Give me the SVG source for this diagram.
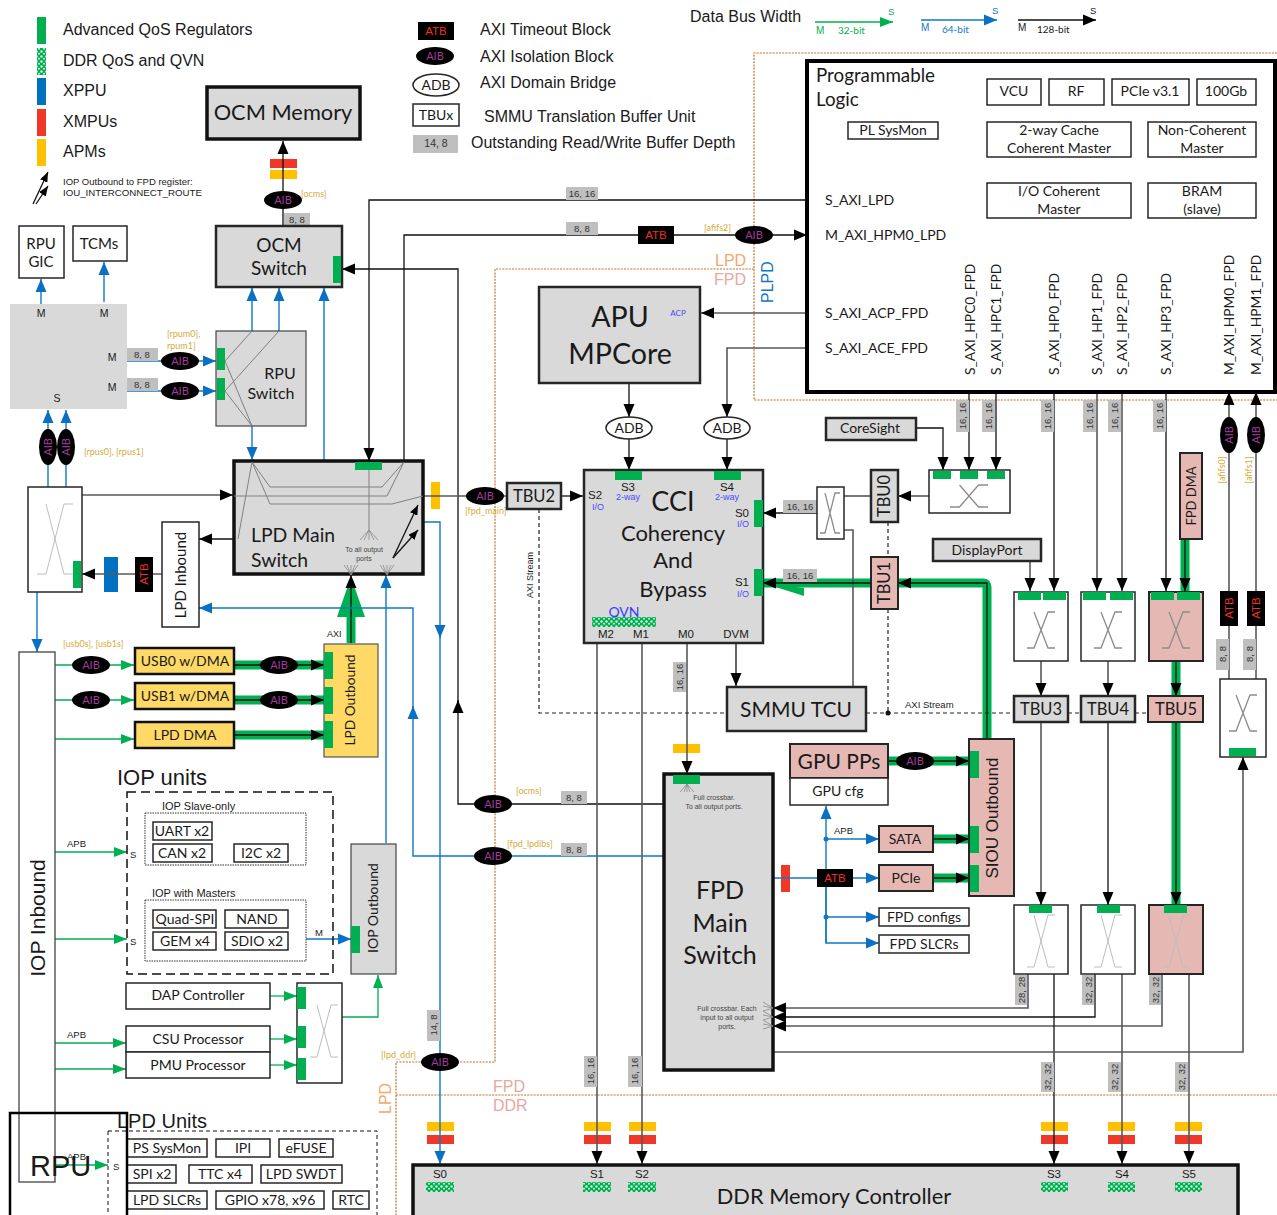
<svg xmlns="http://www.w3.org/2000/svg" width="1277" height="1215" viewBox="0 0 1277 1215">
<style>
text{font-family:"Liberation Sans",Arial,sans-serif;fill:#1a1a1a}
.c{font-family:Lato,"Liberation Sans",sans-serif}
.m{text-anchor:middle}
.b{fill:#fff;stroke:#262626;stroke-width:1.5}
.g{fill:#d9d9d9;stroke:#262626;stroke-width:2.5}
.g3{fill:#d9d9d9;stroke:#111;stroke-width:3.5}
.p{fill:#e6b8b3;stroke:#262626;stroke-width:2}
.y{fill:#ffd966;stroke:#111;stroke-width:2.5}
.aq{fill:#00b050}.xm{fill:#f03828}.ap{fill:#ffc000}.xp{fill:#0070c0}
.lb{fill:#bfbfbf}
.lt{font-size:9.5px;text-anchor:middle;fill:#333}
.aib{fill:#000}
.aibt{font-family:Lato,sans-serif;font-size:11px;fill:#a03c9c;text-anchor:middle}
.atb{fill:#000}
.atbt{font-size:11.5px;fill:#f03020;text-anchor:middle}
.gold{font-family:Lato,sans-serif;font-size:9px;fill:#d4ac3a}
.io{font-size:9px;fill:#4a4aff;text-anchor:middle}
.k,.s,.bl,.gn,.th,.dot,.dash,.in,.fan{fill:none}
.k{stroke:#111;stroke-width:1.3}
.s{stroke:#595959;stroke-width:1.6}
.bl{stroke:#0f78c8;stroke-width:1.4}
.gn{stroke:#00b050;stroke-width:1.3}
.th{stroke:#00b050;stroke-width:9}
.dot{stroke:#c0702a;stroke-width:1.2;stroke-dasharray:2 1.2}
.dash{stroke:#222;stroke-width:1.2;stroke-dasharray:4 3}
.in{stroke:#808080;stroke-width:1}
.fan{stroke:#8c8c8c;stroke-width:.8}
.xg{stroke:#8c8c8c;stroke-width:1.3}
.xl{stroke:#bdbdbd;stroke-width:1}
.hash{fill:url(#qv)}
</style>
<defs>
<pattern id="qv" width="5" height="5" patternUnits="userSpaceOnUse"><rect width="5" height="5" fill="#00b050"/><circle cx="1.5" cy="1.5" r="1.2" fill="#d8f2e2"/><circle cx="4" cy="3.8" r="1" fill="#d8f2e2"/></pattern>
<marker id="ak" markerUnits="userSpaceOnUse" markerWidth="13" markerHeight="12" refX="13" refY="6" orient="auto"><path d="M0 .5L13 6L0 11.5z" fill="#000"/></marker>
<marker id="as" markerUnits="userSpaceOnUse" markerWidth="10" markerHeight="8" refX="10" refY="4" orient="auto"><path d="M0 0L10 4L0 8z" fill="#000"/></marker>
<marker id="ab" markerUnits="userSpaceOnUse" markerWidth="13" markerHeight="12" refX="13" refY="6" orient="auto"><path d="M0 .5L13 6L0 11.5z" fill="#0a70c4"/></marker>
<marker id="ag" markerUnits="userSpaceOnUse" markerWidth="13" markerHeight="12" refX="13" refY="6" orient="auto"><path d="M0 1L13 6L0 11z" fill="#00b050"/></marker>
<path id="xc" d="M-1 1H-.5L.5-1H1M-.5-1L.5 1H1" fill="none" vector-effect="non-scaling-stroke"/>
</defs>

<g id="legend">
<rect class="aq" x="37" y="17" width="9" height="27"/><rect class="hash" x="37" y="48" width="9" height="27"/><rect class="xp" x="37" y="78" width="9" height="27"/><rect class="xm" x="37" y="109" width="9" height="27"/><rect class="ap" x="37" y="139" width="9" height="27"/>
<g font-size="16"><text x="63" y="35">Advanced QoS Regulators</text><text x="63" y="66">DDR QoS and QVN</text><text x="63" y="96">XPPU</text><text x="63" y="127">XMPUs</text><text x="63" y="157">APMs</text>
<text x="480" y="35">AXI Timeout Block</text><text x="480" y="62">AXI Isolation Block</text><text x="480" y="88">AXI Domain Bridge</text><text x="484" y="122">SMMU Translation Buffer Unit</text><text x="471" y="148">Outstanding Read/Write Buffer Depth</text><text x="690" y="22">Data Bus Width</text></g>
<path class="k" d="M36 204L48 186" marker-end="url(#as)"/>
<path class="k" d="M33 204L48 172" marker-end="url(#as)"/>
<text x="63" y="185" font-size="9.5">IOP Outbound to FPD register:</text><text x="63" y="196" font-size="9.7">IOU_INTERCONNECT_ROUTE</text>
<rect class="atb" x="418" y="22" width="36" height="18"/><text class="atbt" x="436" y="35">ATB</text>
<ellipse class="aib" cx="435" cy="56" rx="19" ry="9"/><text class="aibt" x="435" y="60">AIB</text>
<ellipse class="b" cx="436" cy="85" rx="23" ry="11"/><text class="c m" x="436" y="90" font-size="14">ADB</text>
<rect class="b" x="413" y="104" width="46" height="22"/><text class="c m" x="436" y="120" font-size="14">TBUx</text>
<rect class="lb" x="413" y="135" width="45" height="18"/><text class="lt" x="436" y="147" style="font-size:10.5px">14, 8</text>
<path class="gn" d="M815 22H893" stroke-width="2" marker-end="url(#ag)"/><text x="888" y="15" font-size="9.5" style="fill:#00b050">S</text><text x="816" y="34" font-size="10" style="fill:#00b050">M</text><text x="838" y="34" font-size="10" class="c" style="fill:#00b050">32-bit</text>
<path class="bl" d="M921 20H997" marker-end="url(#ab)"/><text x="992" y="14" font-size="9.5" style="fill:#0f78c8">S</text><text x="921" y="31" font-size="10" style="fill:#0f78c8">M</text><text x="942" y="33" font-size="10" class="c" style="fill:#0f78c8">64-bit</text>
<path class="k" d="M1018 20H1096" marker-end="url(#ak)"/><text x="1090" y="14" font-size="9.5">S</text><text x="1018" y="31" font-size="10">M</text><text x="1037" y="33" font-size="10" class="c">128-bit</text>
</g>

<g id="domains">
<path class="dot" d="M1277 53H754V400H1277"/><path class="dot" d="M754 269H495V1062H396V1215"/><path class="dot" d="M396 1095H1277"/>
<text x="715" y="266" font-size="16" style="fill:#f4a868">LPD</text><text x="714" y="285" font-size="16" style="fill:#e6a8a0">FPD</text>
<text x="773" y="303" font-size="16" transform="rotate(-90 773 303)" style="fill:#0f78c8">PLPD</text>
<text x="391" y="1114" font-size="16" transform="rotate(-90 391 1114)" style="fill:#f4a868">LPD</text>
<text x="493" y="1092" font-size="16" style="fill:#e6a8a0">FPD</text><text x="493" y="1111" font-size="16" style="fill:#e6a8a0">DDR</text>
</g>

<g id="bars">
<rect class="xm" x="270" y="159" width="27" height="9"/><rect class="ap" x="270" y="170" width="27" height="9"/>
<rect class="ap" x="431" y="482" width="9" height="27"/><rect class="ap" x="673" y="744" width="27" height="9"/>
<rect class="xm" x="781" y="865" width="9" height="27"/><rect class="xp" x="104" y="557" width="14" height="35"/>
<rect class="ap" x="427" y="1122" width="27" height="9"/><rect class="xm" x="427" y="1135" width="27" height="9"/>
<rect class="ap" x="584" y="1122" width="27" height="9"/><rect class="xm" x="584" y="1135" width="27" height="9"/>
<rect class="ap" x="629" y="1122" width="27" height="9"/><rect class="xm" x="629" y="1135" width="27" height="9"/>
<rect class="ap" x="1041" y="1122" width="27" height="9"/><rect class="xm" x="1041" y="1135" width="27" height="9"/>
<rect class="ap" x="1108" y="1122" width="27" height="9"/><rect class="xm" x="1108" y="1135" width="27" height="9"/>
<rect class="ap" x="1175" y="1122" width="27" height="9"/><rect class="xm" x="1175" y="1135" width="27" height="9"/>
</g>

<g id="connectors">
<!-- thick green buses -->
<path class="th" d="M351 643V600"/><polygon class="aq" points="351,577 365,617 337,617"/>
<path class="th" d="M234 665H324M234 700H324M234 735H324"/>
<path class="th" d="M987 740V587Q987 583 983 583H763"/><polygon class="aq" points="763,583 804,596 804,588"/>
<path class="th" d="M888 761H969M933 839H969M933 878H969"/>
<path class="th" d="M1185 539V591M1176 661V696M1176 722V905"/>
<!-- black and grey -->
<path class="k" d="M283 226V141" marker-end="url(#ak)"/>
<path class="k" d="M807 200H369V461" marker-end="url(#ak)"/>
<path class="k" d="M404 461V235H807" marker-end="url(#ak)"/>
<path class="k" d="M664 804H458V269H342" marker-end="url(#ak)"/>
<path class="k" d="M458 712V700" marker-end="url(#ak)"/>
<path class="s" d="M82 495H233" marker-end="url(#ak)"/>
<path class="s" d="M162 574H82" marker-end="url(#ak)"/>
<path class="k" d="M233 539H199" marker-end="url(#ak)"/>
<path class="s" d="M423 496H507"/>
<path class="k" d="M561 496H583" marker-end="url(#ak)"/>
<path class="s" d="M807 313H701" marker-end="url(#ak)"/>
<path class="s" d="M807 348H727V417" marker-end="url(#ak)"/>
<path class="k" d="M629 383V417" marker-end="url(#ak)"/>
<path class="k" d="M629 439V470" marker-end="url(#ak)"/>
<path class="k" d="M727 439V470" marker-end="url(#ak)"/>
<path class="s" d="M597 643V1164" marker-end="url(#ak)"/>
<path class="s" d="M642 643V1164" marker-end="url(#ak)"/>
<path class="s" d="M687 643V774" marker-end="url(#ak)"/>
<path class="k" d="M736 643V686" marker-end="url(#ak)"/>
<path class="k" d="M817 513H763" marker-end="url(#ak)"/>
<path class="s" d="M844 496H871"/>
<path class="s" d="M844 530H853V687"/>
<path class="s" d="M929 496H898" marker-end="url(#ak)"/>
<path class="k" d="M916 428H943V470" marker-end="url(#ak)"/>
<path class="k" d="M969 392V470" marker-end="url(#ak)"/>
<path class="k" d="M996 392V470" marker-end="url(#ak)"/>
<path class="k" d="M987 740V583H898" marker-end="url(#ak)"/>
<path class="k" d="M871 583H763" marker-end="url(#ak)"/>
<path class="s" d="M1030 561V591" marker-end="url(#ak)"/>
<path class="k" d="M1054 392V591" marker-end="url(#ak)"/>
<path class="s" d="M1097 392V591" marker-end="url(#ak)"/>
<path class="s" d="M1122 392V591" marker-end="url(#ak)"/>
<path class="k" d="M1166 392V591" marker-end="url(#ak)"/>
<path class="k" d="M1185 539V591" stroke-width="2" marker-end="url(#ak)"/>
<path class="s" d="M1041 661V696" marker-end="url(#ak)"/>
<path class="s" d="M1108 661V696" marker-end="url(#ak)"/>
<path class="k" d="M1176 661V696" stroke-width="2" marker-end="url(#ak)"/>
<path class="s" d="M1041 722V905" marker-end="url(#ak)"/>
<path class="k" d="M1108 722V905" marker-end="url(#ak)"/>
<path class="k" d="M1176 722V905" stroke-width="2" marker-end="url(#ak)"/>
<path class="s" d="M1229 679V392" marker-end="url(#ak)"/>
<path class="s" d="M1256 679V392" marker-end="url(#ak)"/>
<path class="k" d="M351 643V575" stroke-width="2" marker-end="url(#ak)"/>
<path class="k" d="M234 665H324" stroke-width="2" marker-end="url(#ak)"/><path class="k" d="M234 700H324" stroke-width="2" marker-end="url(#ak)"/><path class="k" d="M234 735H324" stroke-width="2" marker-end="url(#ak)"/>
<path class="k" d="M888 761H969" stroke-width="2" marker-end="url(#ak)"/><path class="k" d="M933 839H969" stroke-width="2" marker-end="url(#ak)"/><path class="k" d="M933 878H969" stroke-width="2" marker-end="url(#ak)"/>
<path class="s" d="M1028 974V1008H773" marker-end="url(#ak)"/>
<path class="k" d="M1095 974V1017H773" marker-end="url(#ak)"/>
<path class="s" d="M1162 974V1026H773" marker-end="url(#ak)"/>
<path class="k" d="M1054 974V1164" marker-end="url(#ak)"/>
<path class="s" d="M1122 974V1164" stroke-width="1.2" marker-end="url(#ak)"/>
<path class="s" d="M1189 974V1164" marker-end="url(#ak)"/>
<path class="s" d="M773 1052H1243V757" marker-end="url(#ak)"/>
<!-- dashed AXI stream -->
<path class="dash" d="M539 509V713H727M866 713H1014M1068 713H1081M1135 713H1148M888 522V557M888 609V713"/>
<circle cx="888" cy="713" r="2.5" fill="#111"/>
<!-- blue -->
<path class="bl" d="M41 304V279" marker-end="url(#ab)"/><path class="bl" d="M104 302V262" marker-end="url(#ab)"/>
<path class="bl" d="M126 361H216" marker-end="url(#ab)"/><path class="bl" d="M126 391H216" marker-end="url(#ab)"/>
<path class="bl" d="M252 331V288" marker-end="url(#ab)"/><path class="bl" d="M279 331V288" marker-end="url(#ab)"/><path class="bl" d="M324 460V288" marker-end="url(#ab)"/>
<path class="bl" d="M252 426V460" marker-end="url(#ab)"/>
<path class="bl" d="M48 487V410" marker-end="url(#ab)"/><path class="bl" d="M66 487V410" marker-end="url(#ab)"/>
<path class="bl" d="M37 592V652" marker-end="url(#ab)"/>
<path class="bl" d="M423 522H440V1164" marker-end="url(#ab)"/><path class="bl" d="M440 626V638" marker-end="url(#ab)"/>
<path class="bl" d="M664 856H413V608H199" marker-end="url(#ab)"/><path class="bl" d="M413 718V706" marker-end="url(#ab)"/>
<path class="bl" d="M386 843V575" marker-end="url(#ab)"/>
<path class="bl" d="M306 939H351" marker-end="url(#ab)"/>
<path class="bl" d="M826 943V806" marker-end="url(#ab)"/>
<path class="bl" d="M826 839H879" marker-end="url(#ab)"/><path class="bl" d="M773 878H879" marker-end="url(#ab)"/><path class="bl" d="M826 917H879" marker-end="url(#ab)"/><path class="bl" d="M826 878V943H879" marker-end="url(#ab)"/>
<circle cx="826" cy="839" r="2.5" fill="#0f78c8"/><circle cx="826" cy="917" r="2.5" fill="#0f78c8"/>
<!-- green -->
<path class="gn" d="M55 665H134" marker-end="url(#ag)"/><path class="gn" d="M55 700H134" marker-end="url(#ag)"/><path class="gn" d="M55 739H134" marker-end="url(#ag)"/>
<path class="gn" d="M55 852H127" marker-end="url(#ag)"/><path class="gn" d="M55 939H127" marker-end="url(#ag)"/>
<path class="gn" d="M55 1043H126" marker-end="url(#ag)"/><path class="gn" d="M55 1069H126" marker-end="url(#ag)"/>
<path class="gn" d="M55 1165H108" marker-end="url(#ag)"/>
<path class="gn" d="M270 996H297" marker-end="url(#ag)"/><path class="gn" d="M270 1039H297" marker-end="url(#ag)"/><path class="gn" d="M270 1065H297" marker-end="url(#ag)"/>
<path class="gn" d="M342 1017H378V975" marker-end="url(#ag)"/>
</g>

<g id="depth-labels">
<rect class="lb" x="284" y="213" width="26" height="13"/><text class="lt" x="297" y="223">8, 8</text>
<rect class="lb" x="566" y="187" width="32" height="13"/><text class="lt" x="582" y="197">16, 16</text>
<rect class="lb" x="566" y="222" width="32" height="13"/><text class="lt" x="582" y="232">8, 8</text>
<rect class="lb" x="126" y="348" width="32" height="13"/><text class="lt" x="142" y="358">8, 8</text>
<rect class="lb" x="126" y="378" width="32" height="13"/><text class="lt" x="142" y="388">8, 8</text>
<rect class="lb" x="783" y="500" width="34" height="13"/><text class="lt" x="800" y="510">16, 16</text>
<rect class="lb" x="783" y="569" width="34" height="13"/><text class="lt" x="800" y="579">16, 16</text>
<rect class="lb" x="561" y="791" width="26" height="13"/><text class="lt" x="574" y="801">8, 8</text>
<rect class="lb" x="561" y="843" width="26" height="13"/><text class="lt" x="574" y="853">8, 8</text>
<rect class="lb" x="673" y="662" width="13" height="30"/><text class="lt" transform="translate(683 677) rotate(-90)">16, 16</text>
<rect class="lb" x="956" y="400" width="13" height="32"/><text class="lt" transform="translate(966 416) rotate(-90)">16, 16</text>
<rect class="lb" x="982" y="400" width="13" height="32"/><text class="lt" transform="translate(992 416) rotate(-90)">16, 16</text>
<rect class="lb" x="1041" y="400" width="13" height="32"/><text class="lt" transform="translate(1051 416) rotate(-90)">16, 16</text>
<rect class="lb" x="1083" y="400" width="13" height="32"/><text class="lt" transform="translate(1093 416) rotate(-90)">16, 16</text>
<rect class="lb" x="1108" y="400" width="13" height="32"/><text class="lt" transform="translate(1118 416) rotate(-90)">16, 16</text>
<rect class="lb" x="1153" y="400" width="13" height="32"/><text class="lt" transform="translate(1163 416) rotate(-90)">16, 16</text>
<rect class="lb" x="1216" y="639" width="13" height="31"/><text class="lt" transform="translate(1226 654) rotate(-90)">8, 8</text>
<rect class="lb" x="1243" y="639" width="13" height="31"/><text class="lt" transform="translate(1253 654) rotate(-90)">8, 8</text>
<rect class="lb" x="1015" y="975" width="12" height="30"/><text class="lt" transform="translate(1025 990) rotate(-90)">28, 28</text>
<rect class="lb" x="1082" y="975" width="12" height="30"/><text class="lt" transform="translate(1092 990) rotate(-90)">32, 32</text>
<rect class="lb" x="1149" y="975" width="12" height="30"/><text class="lt" transform="translate(1159 990) rotate(-90)">32, 32</text>
<rect class="lb" x="1041" y="1062" width="13" height="30"/><text class="lt" transform="translate(1051 1077) rotate(-90)">32, 32</text>
<rect class="lb" x="1108" y="1062" width="13" height="30"/><text class="lt" transform="translate(1118 1077) rotate(-90)">32, 32</text>
<rect class="lb" x="1175" y="1062" width="13" height="30"/><text class="lt" transform="translate(1185 1077) rotate(-90)">32, 32</text>
<rect class="lb" x="427" y="1010" width="13" height="31"/><text class="lt" transform="translate(437 1025) rotate(-90)">14, 8</text>
<rect class="lb" x="584" y="1056" width="13" height="31"/><text class="lt" transform="translate(594 1071) rotate(-90)">16, 16</text>
<rect class="lb" x="628" y="1056" width="14" height="31"/><text class="lt" transform="translate(638 1071) rotate(-90)">16, 16</text>
</g>

<g id="ocm-memory"><rect class="g3" x="207" y="87" width="153" height="52"/><text class="c m" x="283" y="120" font-size="21.8">OCM Memory</text></g>
<g id="ocm-switch"><rect class="g" x="216" y="226" width="126" height="61" stroke-width="3"/><rect class="aq" x="333" y="256" width="8" height="27"/><text class="c m" x="279" y="252" font-size="19">OCM</text><text class="c m" x="279" y="275" font-size="19">Switch</text></g>
<g id="rpu-gic"><rect class="b" x="19" y="226" width="45" height="52"/><text class="c m" x="41" y="249" font-size="15">RPU</text><text class="c m" x="41" y="267" font-size="15">GIC</text></g>
<g id="tcms"><rect class="b" x="73" y="226" width="54" height="35"/><text class="c m" x="99" y="249" font-size="15">TCMs</text></g>
<g id="rpu"><rect x="10" y="304" width="117" height="105" fill="#d9d9d9"/><g font-size="10.5"><text class="m" x="41" y="317">M</text><text class="m" x="104" y="317">M</text><text class="m" x="112" y="361">M</text><text class="m" x="112" y="391">M</text><text class="m" x="57" y="402">S</text></g></g>
<g id="rpu-switch"><rect x="216" y="331" width="90" height="95" fill="#d9d9d9" stroke="#444" stroke-width="1.2"/><path class="in" d="M225 361L252 331M225 391L279 331M225 361L252 426M225 391L252 426"/><rect class="aq" x="217" y="348" width="8" height="22"/><rect class="aq" x="217" y="378" width="8" height="22"/><text class="c m" x="280" y="379" font-size="16">RPU</text><text class="c m" x="271" y="399" font-size="16">Switch</text></g>
<g id="rpu-aibs"><ellipse class="aib" cx="180" cy="361" rx="19" ry="9"/><text class="aibt" x="180" y="365">AIB</text><ellipse class="aib" cx="180" cy="391" rx="19" ry="9"/><text class="aibt" x="180" y="395">AIB</text><text class="gold" x="167" y="337">[rpum0],</text><text class="gold" x="167" y="349">rpum1]</text>
<ellipse class="aib" cx="48" cy="447" rx="9" ry="18"/><text class="aibt" transform="translate(52 447) rotate(-90)">AIB</text><ellipse class="aib" cx="66" cy="447" rx="9" ry="18"/><text class="aibt" transform="translate(70 447) rotate(-90)">AIB</text><text class="gold" x="84" y="455">[rpus0], [rpus1]</text></g>
<g id="lpd-xbar"><rect class="b" x="28" y="487" width="54" height="105"/><use href="#xc" class="xl" transform="translate(55 539) scale(18 35)"/><rect class="aq" x="73" y="561" width="8" height="27"/></g>
<g id="atb-lpd"><rect class="atb" x="135" y="557" width="18" height="35"/><text class="atbt" transform="translate(148 574) rotate(-90)">ATB</text></g>
<g id="lpd-inbound"><rect class="b" x="162" y="522" width="37" height="105"/><text class="c m" transform="translate(186 575) rotate(-90)" font-size="15">LPD Inbound</text></g>
<g id="lpd-main"><rect class="g3" x="234" y="461" width="189" height="113"/><path class="in" d="M252 462L270 487H382L404 462M252 462L270 504H392L423 496M252 462L238 539M234 496H387L404 462M369 470V530"/><rect class="aq" x="355" y="462" width="27" height="8"/><path class="fan" d="M369 530L360 540M369 530L364 540M369 530V540M369 530L374 540M369 530L378 540M351 575L344 565M351 575L347 565M351 575V565M351 575L355 565M351 575L358 565M387 575L380 565M387 575L383 565M387 575V565M387 575L391 565M387 575L394 565"/><text class="c" x="251" y="542" font-size="19.4">LPD Main</text><text class="c" x="251" y="567" font-size="19.4">Switch</text><text class="m" x="364" y="552" font-size="7" style="fill:#444">To all output</text><text class="m" x="364" y="561" font-size="7" style="fill:#444">ports</text><path class="k" d="M393 558L418 505" marker-end="url(#as)"/><path class="k" d="M393 558L418 530" marker-end="url(#as)"/></g>
<g id="aib-afifs2"><rect class="atb" x="638" y="226" width="36" height="18"/><text class="atbt" x="656" y="239">ATB</text><ellipse class="aib" cx="754" cy="235" rx="19" ry="9"/><text class="aibt" x="754" y="239">AIB</text><text class="gold" x="704" y="231">[afifs2]</text></g>
<g id="aib-ocm"><ellipse class="aib" cx="283" cy="200" rx="19" ry="9"/><text class="aibt" x="283" y="204">AIB</text><text class="gold" x="301" y="197">[ocms]</text></g>
<g id="tbu2"><ellipse class="aib" cx="485" cy="496" rx="19" ry="9"/><text class="aibt" x="485" y="500">AIB</text><text class="gold" x="465" y="514">[fpd_main]</text><rect class="g" x="507" y="483" width="54" height="26"/><text class="c m" x="534" y="502" font-size="16.5">TBU2</text><text class="m" transform="translate(533 575) rotate(-90)" font-size="9">AXI Stream</text></g>
<g id="apu"><rect class="g" x="539" y="287" width="161" height="96"/><text class="c m" x="620" y="327" font-size="28.6">APU</text><text class="c m" x="620" y="364" font-size="28.6">MPCore</text><text class="c m" x="678" y="316" font-size="8" style="fill:#4a4aff">ACP</text></g>
<g id="adb"><ellipse class="b" cx="629" cy="428" rx="23" ry="11"/><text class="c m" x="629" y="433" font-size="14">ADB</text><ellipse class="b" cx="727" cy="428" rx="23" ry="11"/><text class="c m" x="727" y="433" font-size="14">ADB</text></g>
<g id="cci"><rect class="g" x="584" y="470" width="179" height="173"/><rect class="aq" x="615" y="471" width="27" height="9"/><rect class="aq" x="714" y="471" width="27" height="9"/><rect class="aq" x="754" y="500" width="9" height="27"/><rect class="aq" x="754" y="569" width="9" height="27"/>
<g font-size="11.5"><text x="588" y="499">S2</text><text class="m" x="628" y="491">S3</text><text class="m" x="727" y="491">S4</text><text class="m" x="742" y="517">S0</text><text class="m" x="742" y="586">S1</text><text class="m" x="606" y="638">M2</text><text class="m" x="641" y="638">M1</text><text class="m" x="686" y="638">M0</text><text class="m" x="736" y="638">DVM</text></g>
<text class="io" x="598" y="510">I/O</text><text class="io" x="628" y="500">2-way</text><text class="io" x="727" y="500">2-way</text><text class="io" x="743" y="527">I/O</text><text class="io" x="743" y="597">I/O</text>
<text class="c m" x="673" y="511" font-size="27">CCI</text><text class="c m" x="673" y="541" font-size="22">Coherency</text><text class="c m" x="673" y="568" font-size="22">And</text><text class="c m" x="673" y="597" font-size="22">Bypass</text>
<text class="c m" x="624" y="617" font-size="14" style="fill:#3a3aff">QVN</text><rect class="hash" x="592" y="617" width="64" height="10"/></g>
<g id="smmu-tcu"><rect class="g" x="727" y="687" width="139" height="44"/><text class="c m" x="796" y="717" font-size="21">SMMU TCU</text></g>
<g id="xbar-s0"><rect class="b" x="817" y="487" width="27" height="52"/><use href="#xc" class="xg" transform="translate(830 513) scale(10 20)"/></g>
<g id="tbu0"><rect class="g" x="871" y="470" width="27" height="52"/><text class="c m" transform="translate(890 496) rotate(-90)" font-size="16.5">TBU0</text></g>
<g id="tbu1"><rect class="p" x="871" y="557" width="27" height="52"/><text class="c m" transform="translate(890 583) rotate(-90)" font-size="16.5">TBU1</text></g>
<g id="coresight"><rect class="g" x="826" y="418" width="90" height="22" stroke-width="1.5"/><text class="c m" x="870" y="433" font-size="14">CoreSight</text></g>
<g id="xbar-cs"><rect class="b" x="929" y="470" width="81" height="43"/><rect class="aq" x="933" y="471" width="18" height="8"/><rect class="aq" x="960" y="471" width="18" height="8"/><rect class="aq" x="987" y="471" width="18" height="8"/><use href="#xc" class="xg" transform="translate(969 496) scale(19 11)"/></g>
<g id="displayport"><rect class="g" x="933" y="539" width="108" height="22" stroke-width="1.5"/><text class="c m" x="987" y="555" font-size="14">DisplayPort</text></g>
<g id="axi-stream"><text x="905" y="708" font-size="9.5">AXI Stream</text></g>
<g id="xbar3"><rect class="b" x="1014" y="592" width="54" height="69" stroke-width="2"/><rect class="aq" x="1018" y="592" width="23" height="8"/><rect class="aq" x="1043" y="592" width="23" height="8"/><use href="#xc" class="xg" transform="translate(1041 630) scale(14 18)"/></g>
<g id="xbar4"><rect class="b" x="1081" y="592" width="54" height="69" stroke-width="2"/><rect class="aq" x="1083" y="592" width="23" height="8"/><rect class="aq" x="1110" y="592" width="23" height="8"/><use href="#xc" class="xg" transform="translate(1108 630) scale(14 18)"/></g>
<g id="xbar5"><rect class="p" x="1149" y="592" width="54" height="69"/><rect class="aq" x="1151" y="592" width="23" height="8"/><rect class="aq" x="1177" y="592" width="23" height="8"/><use href="#xc" class="xg" transform="translate(1176 630) scale(14 18)"/></g>
<g id="fpd-dma"><rect class="p" x="1180" y="453" width="22" height="86" stroke-width="1.5"/><text class="c m" transform="translate(1196 496) rotate(-90)" font-size="13">FPD DMA</text></g>
<g id="tbu3"><rect class="g" x="1014" y="696" width="54" height="26"/><text class="c m" x="1041" y="715" font-size="16.5">TBU3</text></g>
<g id="tbu4"><rect class="g" x="1081" y="696" width="54" height="26"/><text class="c m" x="1108" y="715" font-size="16.5">TBU4</text></g>
<g id="tbu5"><rect class="p" x="1148" y="696" width="55" height="26"/><text class="c m" x="1176" y="715" font-size="16.5">TBU5</text></g>
<g id="xbar6"><rect class="b" x="1220" y="679" width="46" height="78" stroke-width="2"/><use href="#xc" class="xg" transform="translate(1243 713) scale(14 18)"/><rect class="aq" x="1229" y="748" width="27" height="8"/></g>
<g id="afi-blocks"><rect class="atb" x="1220" y="591" width="18" height="35"/><text class="atbt" transform="translate(1233 608) rotate(-90)">ATB</text><rect class="atb" x="1247" y="591" width="18" height="35"/><text class="atbt" transform="translate(1260 608) rotate(-90)">ATB</text>
<ellipse class="aib" cx="1229" cy="435" rx="9" ry="18"/><text class="aibt" transform="translate(1233 435) rotate(-90)">AIB</text><ellipse class="aib" cx="1256" cy="435" rx="9" ry="18"/><text class="aibt" transform="translate(1260 435) rotate(-90)">AIB</text>
<text class="gold m" style="text-anchor:middle" transform="translate(1225 470) rotate(-90)">[afifs0]</text><text class="gold" style="text-anchor:middle" transform="translate(1252 470) rotate(-90)">[afifs1]</text></g>

<g id="pl"><rect x="807" y="61" width="468" height="331" fill="#fff" stroke="#000" stroke-width="4"/>
<text class="c" x="816" y="82" font-size="18.8">Programmable</text><text class="c" x="816" y="106" font-size="18.8">Logic</text>
<g font-size="14"><rect class="b" x="987" y="79" width="54" height="26"/><text class="c m" x="1014" y="96">VCU</text>
<rect class="b" x="1049" y="79" width="55" height="26"/><text class="c m" x="1076" y="96">RF</text>
<rect class="b" x="1112" y="79" width="77" height="26"/><text class="c m" x="1150" y="96">PCIe v3.1</text>
<rect class="b" x="1197" y="79" width="59" height="26"/><text class="c m" x="1226" y="96">100Gb</text>
<rect class="b" x="848" y="122" width="90" height="17"/><text class="c m" x="893" y="135">PL SysMon</text>
<rect class="b" x="987" y="122" width="144" height="35"/><text class="c m" x="1059" y="135">2-way Cache</text><text class="c m" x="1059" y="153">Coherent Master</text>
<rect class="b" x="1148" y="122" width="108" height="35"/><text class="c m" x="1202" y="135">Non-Coherent</text><text class="c m" x="1202" y="153">Master</text>
<rect class="b" x="987" y="183" width="144" height="35"/><text class="c m" x="1059" y="196">I/O Coherent</text><text class="c m" x="1059" y="214">Master</text>
<rect class="b" x="1148" y="183" width="108" height="35"/><text class="c m" x="1202" y="196">BRAM</text><text class="c m" x="1202" y="214">(slave)</text>
<text class="c" x="825" y="205">S_AXI_LPD</text><text class="c" x="825" y="240">M_AXI_HPM0_LPD</text><text class="c" x="825" y="318">S_AXI_ACP_FPD</text><text class="c" x="825" y="353">S_AXI_ACE_FPD</text></g>
<g font-size="13.8"><text class="c" transform="translate(975 375) rotate(-90)">S_AXI_HPC0_FPD</text><text class="c" transform="translate(1001 375) rotate(-90)">S_AXI_HPC1_FPD</text><text class="c" transform="translate(1059 375) rotate(-90)">S_AXI_HP0_FPD</text><text class="c" transform="translate(1102 375) rotate(-90)">S_AXI_HP1_FPD</text><text class="c" transform="translate(1127 375) rotate(-90)">S_AXI_HP2_FPD</text><text class="c" transform="translate(1171 375) rotate(-90)">S_AXI_HP3_FPD</text><text class="c" transform="translate(1234 375) rotate(-90)">M_AXI_HPM0_FPD</text><text class="c" transform="translate(1261 375) rotate(-90)">M_AXI_HPM1_FPD</text></g></g>

<g id="fpd-main"><rect class="g3" x="664" y="774" width="109" height="296" stroke-width="3"/><rect class="aq" x="673" y="775" width="27" height="9"/><path class="fan" d="M687 784L680 792M687 784L684 792M687 784V792M687 784L690 792M687 784L694 792M773 1008L763 1002M773 1008L763 1006M773 1008L763 1011M773 1017L763 1011M773 1017L763 1015M773 1017L763 1020M773 1026L763 1020M773 1026L763 1024M773 1026L763 1029"/><text class="m" x="714" y="800" font-size="7" style="fill:#444">Full crossbar.</text><text class="m" x="714" y="809" font-size="7" style="fill:#444">To all output ports.</text><text class="c m" x="720" y="899" font-size="25">FPD</text><text class="c m" x="720" y="932" font-size="25">Main</text><text class="c m" x="720" y="964" font-size="25">Switch</text><text class="m" x="727" y="1011" font-size="7" style="fill:#444">Full crossbar. Each</text><text class="m" x="727" y="1020" font-size="7" style="fill:#444">input to all output</text><text class="m" x="727" y="1029" font-size="7" style="fill:#444">ports.</text></g>
<g id="aib-fpd-lpd"><ellipse class="aib" cx="493" cy="804" rx="19" ry="9"/><text class="aibt" x="493" y="808">AIB</text><text class="gold" x="516" y="794">[ocms]</text><ellipse class="aib" cx="493" cy="856" rx="19" ry="9"/><text class="aibt" x="493" y="860">AIB</text><text class="gold" x="507" y="847">[fpd_lpdibs]</text><ellipse class="aib" cx="440" cy="1062" rx="19" ry="9"/><text class="aibt" x="440" y="1066">AIB</text><text class="gold" x="381" y="1058">[lpd_ddr]</text></g>
<g id="gpu"><rect class="p" x="790" y="744" width="98" height="34"/><text class="c m" x="839" y="769" font-size="21">GPU PPs</text><rect class="b" x="790" y="778" width="98" height="27" stroke-width="1.5"/><text class="c m" x="838" y="796" font-size="14">GPU cfg</text><ellipse class="aib" cx="915" cy="761" rx="19" ry="9"/><text class="aibt" x="915" y="765">AIB</text></g>
<g id="siou-outbound"><rect class="p" x="969" y="739" width="45" height="157"/><rect class="aq" x="970" y="751" width="9" height="27"/><rect class="aq" x="970" y="826" width="9" height="27"/><rect class="aq" x="970" y="865" width="9" height="27"/><text class="m" transform="translate(998 818) rotate(-90)" font-size="17">SIOU Outbound</text></g>
<g id="sata"><rect class="p" x="879" y="826" width="54" height="26" stroke-width="1.5"/><text class="c m" x="905" y="844" font-size="14">SATA</text></g>
<g id="pcie"><rect class="p" x="879" y="865" width="54" height="26" stroke-width="1.5"/><text class="c m" x="906" y="883" font-size="14">PCIe</text></g>
<g id="atb-fpd"><rect class="atb" x="817" y="869" width="36" height="18"/><text class="atbt" x="835" y="882">ATB</text><text x="834" y="834" font-size="9.5">APB</text></g>
<g id="fpd-configs"><rect class="b" x="879" y="908" width="90" height="18"/><text class="c m" x="924" y="922" font-size="14">FPD configs</text></g>
<g id="fpd-slcrs"><rect class="b" x="879" y="935" width="90" height="18"/><text class="c m" x="924" y="949" font-size="14">FPD SLCRs</text></g>
<g id="xbar7"><rect class="b" x="1014" y="905" width="54" height="69" stroke-width="2"/><rect class="aq" x="1029" y="905" width="23" height="8"/><use href="#xc" class="xl" transform="translate(1041 941) scale(14 26)"/></g>
<g id="xbar8"><rect class="b" x="1081" y="905" width="54" height="69" stroke-width="2"/><rect class="aq" x="1097" y="905" width="23" height="8"/><use href="#xc" class="xl" transform="translate(1108 941) scale(14 26)"/></g>
<g id="xbar9"><rect class="p" x="1149" y="905" width="54" height="69"/><rect class="aq" x="1164" y="905" width="23" height="8"/><use href="#xc" class="xl" transform="translate(1176 941) scale(14 26)"/></g>
<g id="usb"><rect class="y" x="135" y="648" width="99" height="26"/><text class="c m" x="185" y="666" font-size="14">USB0 w/DMA</text><rect class="y" x="135" y="683" width="99" height="26"/><text class="c m" x="185" y="701" font-size="14">USB1 w/DMA</text><rect class="y" x="135" y="722" width="99" height="26"/><text class="c m" x="185" y="740" font-size="14">LPD DMA</text>
<ellipse class="aib" cx="91" cy="665" rx="19" ry="9"/><text class="aibt" x="91" y="669">AIB</text><ellipse class="aib" cx="91" cy="700" rx="19" ry="9"/><text class="aibt" x="91" y="704">AIB</text><ellipse class="aib" cx="279" cy="665" rx="19" ry="9"/><text class="aibt" x="279" y="669">AIB</text><ellipse class="aib" cx="279" cy="700" rx="19" ry="9"/><text class="aibt" x="279" y="704">AIB</text><text class="gold" x="63" y="647">[usb0s], [usb1s]</text></g>
<g id="lpd-outbound"><rect x="324" y="644" width="54" height="113" fill="#ffd966" stroke="#555" stroke-width="1.2"/><rect class="aq" x="324" y="652" width="9" height="27"/><rect class="aq" x="324" y="687" width="9" height="27"/><rect class="aq" x="324" y="721" width="9" height="27"/><text class="c m" transform="translate(355 700) rotate(-90)" font-size="13.7">LPD Outbound</text><text x="327" y="637" font-size="9">AXI</text></g>
<g id="iop-inbound"><rect x="19" y="652" width="36" height="530" fill="#fff" stroke="#444" stroke-width="1.3"/><text class="m" transform="translate(45 918) rotate(-90)" font-size="21">IOP Inbound</text><text x="67" y="847" font-size="9.5">APB</text><text x="67" y="1038" font-size="9.5">APB</text></g>
<g id="iop-units"><text x="117" y="785" font-size="22">IOP units</text><rect x="127" y="792" width="206" height="182" fill="none" stroke="#111" stroke-width="1.5" stroke-dasharray="9 5"/><text x="162" y="810" font-size="11">IOP Slave-only</text><text x="152" y="897" font-size="11">IOP with Masters</text>
<rect x="145" y="813" width="161" height="52" fill="none" stroke="#333" stroke-dasharray="1.5 1"/><rect x="145" y="900" width="161" height="61" fill="none" stroke="#333" stroke-dasharray="1.5 1"/>
<g font-size="14"><rect class="b" x="153" y="822" width="59" height="18" stroke-width="1.2"/><text class="c m" x="182" y="836">UART x2</text><rect class="b" x="153" y="844" width="59" height="18" stroke-width="1.2"/><text class="c m" x="182" y="858">CAN x2</text><rect class="b" x="234" y="844" width="54" height="18" stroke-width="1.2"/><text class="c m" x="261" y="858">I2C x2</text>
<rect class="b" x="153" y="910" width="63" height="18" stroke-width="1.2"/><text class="c m" x="185" y="924">Quad-SPI</text><rect class="b" x="225" y="910" width="63" height="18" stroke-width="1.2"/><text class="c m" x="257" y="924">NAND</text><rect class="b" x="153" y="932" width="63" height="18" stroke-width="1.2"/><text class="c m" x="185" y="946">GEM x4</text><rect class="b" x="225" y="932" width="63" height="18" stroke-width="1.2"/><text class="c m" x="257" y="946">SDIO x2</text></g>
<text x="130" y="858" font-size="9.5">S</text><text x="130" y="945" font-size="9.5">S</text><text x="315" y="936" font-size="9.5">M</text></g>
<g id="iop-outbound"><rect x="351" y="844" width="45" height="130" fill="#d9d9d9" stroke="#444" stroke-width="1.2"/><rect class="aq" x="351" y="926" width="9" height="27"/><text class="c m" transform="translate(378 908) rotate(-90)" font-size="14">IOP Outbound</text></g>
<g id="dap"><rect class="b" x="126" y="983" width="144" height="26" stroke-width="2"/><text class="c m" x="198" y="1000" font-size="14">DAP Controller</text></g>
<g id="csu"><rect class="b" x="126" y="1026" width="144" height="26" stroke-width="2"/><text class="c m" x="198" y="1044" font-size="14">CSU Processor</text></g>
<g id="pmu"><rect class="b" x="126" y="1052" width="144" height="26" stroke-width="2"/><text class="c m" x="198" y="1070" font-size="14">PMU Processor</text></g>
<g id="xbar-csu"><rect class="b" x="297" y="983" width="45" height="100" stroke-width="1"/><use href="#xc" class="xl" transform="translate(324 1031) scale(14 26)"/><rect class="aq" x="297" y="987" width="9" height="22"/><rect class="aq" x="297" y="1026" width="9" height="22"/><rect class="aq" x="297" y="1058" width="9" height="22"/></g>
<g id="lpd-units"><text x="117" y="1128" font-size="20">LPD Units</text><rect x="108" y="1131" width="269" height="90" fill="none" stroke="#111" stroke-dasharray="4 3"/>
<g font-size="14"><rect class="b" x="127" y="1139" width="80" height="18" stroke-width="1.2"/><text class="c m" x="167" y="1153">PS SysMon</text><rect class="b" x="216" y="1139" width="54" height="18" stroke-width="1.2"/><text class="c m" x="243" y="1153">IPI</text><rect class="b" x="279" y="1139" width="54" height="18" stroke-width="1.2"/><text class="c m" x="306" y="1153">eFUSE</text>
<rect class="b" x="127" y="1165" width="49" height="18" stroke-width="1.2"/><text class="c m" x="152" y="1179">SPI x2</text><rect class="b" x="189" y="1165" width="63" height="18" stroke-width="1.2"/><text class="c m" x="220" y="1179">TTC x4</text><rect class="b" x="261" y="1165" width="81" height="18" stroke-width="1.2"/><text class="c m" x="301" y="1179">LPD SWDT</text>
<rect class="b" x="127" y="1191" width="80" height="18" stroke-width="1.2"/><text class="c m" x="167" y="1205">LPD SLCRs</text><rect class="b" x="216" y="1191" width="108" height="18" stroke-width="1.2"/><text class="c m" x="270" y="1205">GPIO x78, x96</text><rect class="b" x="333" y="1191" width="36" height="18" stroke-width="1.2"/><text class="c m" x="351" y="1205">RTC</text></g>
<text x="113" y="1170" font-size="9.5">S</text></g>
<g id="rpu-overlap"><text x="67" y="1160" font-size="9.5">APB</text><rect x="10" y="1113" width="117" height="120" fill="none" stroke="#000" stroke-width="2.5"/><text x="30" y="1176" font-size="29">RPU</text></g>
<g id="ddr"><rect class="g3" x="413" y="1165" width="825" height="70"/><text class="c m" x="834" y="1204" font-size="21.8">DDR Memory Controller</text>
<g font-size="11.5"><text class="m" x="440" y="1178">S0</text><text class="m" x="597" y="1178">S1</text><text class="m" x="642" y="1178">S2</text><text class="m" x="1054" y="1178">S3</text><text class="m" x="1122" y="1178">S4</text><text class="m" x="1189" y="1178">S5</text></g>
<rect class="hash" x="426" y="1182" width="28" height="10"/><rect class="hash" x="583" y="1182" width="28" height="10"/><rect class="hash" x="628" y="1182" width="28" height="10"/><rect class="hash" x="1041" y="1182" width="27" height="10"/><rect class="hash" x="1108" y="1182" width="27" height="10"/><rect class="hash" x="1175" y="1182" width="27" height="10"/></g>
</svg>
